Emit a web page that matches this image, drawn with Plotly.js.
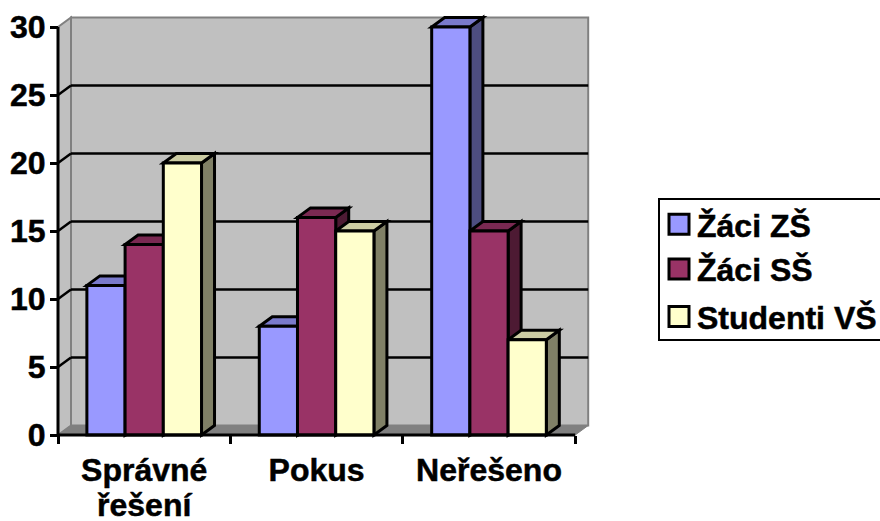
<!DOCTYPE html>
<html>
<head>
<meta charset="utf-8">
<script src="https://cdn.plot.ly/plotly-3.0.1.min.js"></script>
<style>html,body{margin:0;padding:0;background:#fff;overflow:hidden}
#chart text{stroke:#000;stroke-width:0.5px}</style>
</head>
<body>
<div id="chart" style="width:880px;height:521px"></div>
<script>
// Values
const categories = ['Správné<br>řešení', 'Pokus', 'Neřešeno'];
const seriesNames = ['Žáci ZŠ', 'Žáci SŠ', 'Studenti VŠ'];
const zaciZS = [11, 8, 30];
const zaciSS = [14, 16, 15];
const studentiVS = [20, 15, 7];
const yTicks = [0, 5, 10, 15, 20, 25, 30];

// Colours: front, top and side face of each series
const frontColors = ['#9999FF', '#993366', '#FFFFCC'];
const topColors = ['#7A7ACC', '#7A2952', '#CCCCA3'];
const sideColors = ['#4D4D80', '#4D1A33', '#808066'];

// Layout of the pseudo-3D box, in pixels
const W = 880, H = 521;
const originX = 58, originY = 435;
const pxPerCat = 172.4, pxPerVal = 13.6;
const plotL = 52, plotR = 592, plotT = 13, plotB = 441;
const depthX = 13 / pxPerCat, depthY = 9.5 / pxPerVal;
const bargap = 0.335;
const barW = (1 - bargap) / 3;
const yMax = 30, nCat = categories.length;

const series = [zaciZS, zaciSS, studentiVS];
const catCenters = categories.map((_, i) => i + 0.5);

const poly = (pts, fill, line, width, layer) => ({
  type: 'path', xref: 'x', yref: 'y', layer: layer || 'below',
  path: 'M' + pts.map(p => p[0] + ',' + p[1]).join('L') + 'Z',
  fillcolor: fill, line: {color: line, width: width}
});
const seg = (x0, y0, x1, y1, color, width, layer) => ({
  type: 'line', xref: 'x', yref: 'y', layer: layer || 'below',
  x0, y0, x1, y1, line: {color, width}
});

const shapes = [];
// Walls and floor
shapes.push(poly([[depthX, depthY], [nCat + depthX, depthY], [nCat + depthX, yMax + depthY], [depthX, yMax + depthY]], '#C0C0C0', '#808080', 2));
shapes.push(poly([[0, 0], [depthX, depthY], [depthX, yMax + depthY], [0, yMax]], '#C0C0C0', '#808080', 2));
shapes.push(poly([[0, 0], [nCat, 0], [nCat + depthX, depthY], [depthX, depthY]], '#808080', '#808080', 1));
// Gridlines running along the left and back walls
yTicks.filter(v => v > 0 && v < yMax).forEach(v => {
  shapes.push(seg(0, v, depthX, v + depthY, '#000000', 2.5));
  shapes.push(seg(depthX, v + depthY, nCat + depthX, v + depthY, '#000000', 2.5));
});
// Top and side faces, painted left to right so nearer neighbours overlap
categories.forEach((_, c) => {
  series.forEach((vals, s) => {
    const x0 = c + bargap / 2 + barW * s, x1 = x0 + barW, v = vals[c];
    shapes.push(poly([[x1, 0], [x1 + depthX, depthY], [x1 + depthX, v + depthY], [x1, v]], sideColors[s], '#000000', 3));
    shapes.push(poly([[x0, v], [x1, v], [x1 + depthX, v + depthY], [x0 + depthX, v + depthY]], topColors[s], '#000000', 3));
  });
});
// Axis lines in the front plane
shapes.push(seg(0, 0, 0, yMax, '#000000', 3, 'above'));
shapes.push(seg(0, 0, nCat, 0, '#000000', 3, 'above'));

const font = {family: '"Liberation Sans", Arial, sans-serif', size: 32, weight: 700, color: '#000000'};

const traces = series.map((vals, s) => ({
  type: 'bar',
  name: seriesNames[s],
  legendgroup: seriesNames[s],
  x: catCenters,
  y: vals,
  marker: {color: frontColors[s], line: {color: '#000000', width: 3}},
  hoverinfo: 'x+y+name'
}));

const layout = {
  width: W, height: H,
  margin: {l: plotL, r: W - plotR, t: plotT, b: H - plotB, pad: 0, autoexpand: false},
  paper_bgcolor: '#FFFFFF',
  plot_bgcolor: 'rgba(0,0,0,0)',
  barmode: 'group', bargap: bargap, bargroupgap: 0,
  font: font,
  xaxis: {
    range: [(plotL - originX) / pxPerCat, (plotR - originX) / pxPerCat],
    anchor: 'free', position: (plotB - originY) / (plotB - plotT),
    tickmode: 'array', tickvals: catCenters, ticktext: categories,
    ticks: '', showgrid: false, zeroline: false, showline: false,
    ticklabelstandoff: 13, tickfont: font,
    minor: {tickmode: 'array', tickvals: [0, 1, 2, 3], ticks: 'outside', ticklen: 8, tickwidth: 2.5, tickcolor: '#000000', showgrid: false}
  },
  yaxis: {
    range: [(originY - plotB) / pxPerVal, (originY - plotT) / pxPerVal],
    anchor: 'free', position: (originX - plotL) / (plotR - plotL),
    tickmode: 'array', tickvals: yTicks, ticks: 'outside', ticklen: 8, tickwidth: 2.5, tickcolor: '#000000',
    showgrid: false, zeroline: false, showline: false, tickfont: font, ticklabelstandoff: -2
  },
  showlegend: true,
  legend: {
    x: (658 - plotL) / (plotR - plotL), xanchor: 'left',
    y: (plotB - 198) / (plotB - plotT), yanchor: 'top',
    bgcolor: '#FFFFFF', bordercolor: '#000000', borderwidth: 2,
    tracegroupgap: 2, font: font, traceorder: 'normal'
  },
  shapes: shapes
};

Plotly.newPlot('chart', traces, layout, {displayModeBar: false}).then(gd => {
  // Larger legend swatches, with the labels closer to them
  gd.querySelectorAll('.legendpoints path').forEach(p => p.setAttribute('d', 'M9,10H-11V-10H9Z'));
  gd.querySelectorAll('.legendtext').forEach(t => t.setAttribute('x', +t.getAttribute('x') - 3));
  // Tighter legend box and rows
  const rowShift = [-3, -3, 0];
  gd.querySelectorAll('.legend .traces').forEach((t, i) => {
    t.setAttribute('transform', (t.getAttribute('transform') || '') + ' translate(0,' + rowShift[i] + ')');
  });
  const bg = gd.querySelector('.legend rect.bg');
  bg.setAttribute('height', 141);
  // Tighter spacing in the two-line category label
  gd.querySelectorAll('.xtick text tspan.line').forEach(t => {
    if (+t.getAttribute('dy')?.replace('em', '') > 0) t.setAttribute('dy', '34.5px');
  });
});
</script>
</body>
</html>
